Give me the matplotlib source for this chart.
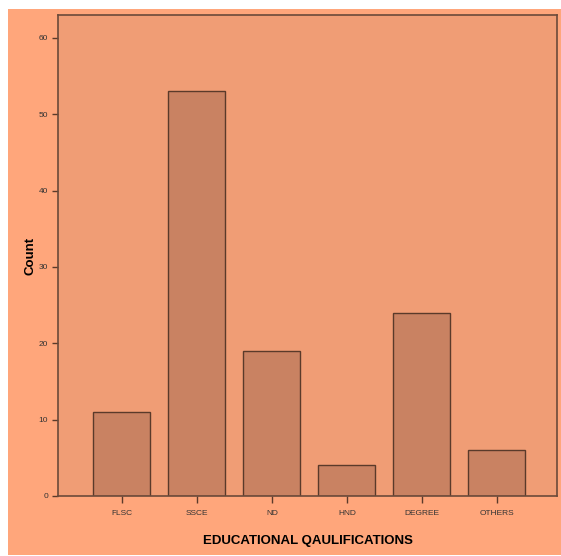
import matplotlib
matplotlib.use("Agg")
import matplotlib.pyplot as plt
from matplotlib.patches import Rectangle

plt.rcParams['font.family'] = ['Liberation Sans', 'DejaVu Sans']

categories = ["FLSC", "SSCE", "ND", "HND", "DEGREE", "OTHERS"]
counts = [11, 53, 19, 4, 24, 6]
yticks = [0, 10, 20, 30, 40, 50, 60]

fig = plt.figure(figsize=(5.61, 5.56), dpi=100)
fig.patch.set_facecolor("white")
fig.patches.append(Rectangle((8/561, 1-555/556), (561-8)/561, (555-9)/556,
                             transform=fig.transFigure, facecolor="#FFA67B",
                             edgecolor="none", zorder=-10))

ax = fig.add_axes([58/561, 1-496/556, (557-58)/561, (496-15)/556])
ax.set_facecolor("#F09D75")
x = list(range(len(categories)))
ax.bar(x, counts, width=0.76, color="#C98262", edgecolor="#5a3a2a", linewidth=1.0)
ax.set_xlim(-0.853, 5.8)
ax.set_ylim(0, 63)
ax.set_xticks(x)
ax.set_xticklabels(categories, fontsize=6, color="#333333")
ax.set_yticks(yticks)
ax.set_yticklabels([str(v) for v in yticks], fontsize=6, color="#333333")
ax.tick_params(axis="x", direction="out", length=5, width=1, color="#5a3a2a", pad=5)
ax.tick_params(axis="y", direction="out", length=4, width=1, color="#5a3a2a", pad=3)
for s in ax.spines.values():
    s.set_color("#6b4a3a")
    s.set_linewidth(1.2)
ax.set_ylabel("Count", fontsize=9.5, fontweight="bold", labelpad=2)
ax.set_xlabel("EDUCATIONAL QAULIFICATIONS", fontsize=9.5, fontweight="bold", labelpad=13)

fig.savefig("out.png", dpi=100, facecolor=fig.get_facecolor())
